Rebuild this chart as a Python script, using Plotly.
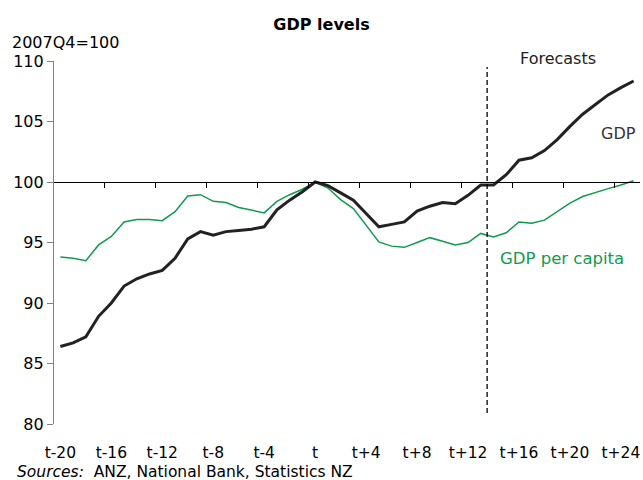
import plotly.graph_objects as go

quarters = list(range(-20, 26))
categories = [("t" if q == 0 else f"t{q:+d}") for q in quarters]
tick_labels = ["t-20", "t-16", "t-12", "t-8", "t-4", "t", "t+4", "t+8", "t+12", "t+16", "t+20", "t+24"]

gdp = [86.4, 86.7, 87.2, 88.9, 90.0, 91.4, 92.0, 92.4, 92.7, 93.7, 95.3, 95.9,
       95.6, 95.9, 96.0, 96.1, 96.3, 97.7, 98.5, 99.2, 100.0,
       99.7, 99.1, 98.5, 97.4, 96.3, 96.5, 96.7, 97.6, 98.0, 98.3, 98.2, 98.9, 99.75, 99.75,
       100.6, 101.8, 102.0, 102.6, 103.5, 104.6, 105.6, 106.4, 107.2, 107.8, 108.35]
gdp_per_capita = [93.8, 93.7, 93.5, 94.8, 95.5, 96.7, 96.9, 96.9, 96.8, 97.55, 98.85, 98.95,
                  98.4, 98.3, 97.9, 97.7, 97.45, 98.4, 98.95, 99.4, 100.0,
                  99.5, 98.55, 97.8, 96.45, 95.05, 94.7, 94.6, 95.0, 95.4, 95.1, 94.8, 95.0, 95.75, 95.45,
                  95.8, 96.7, 96.6, 96.85, 97.55, 98.25, 98.8, 99.15, 99.45, 99.75, 100.1]

forecast_start = 33.5  # boundary between t+13 and t+14 (index positions)

x = list(range(len(categories)))
label_pos = [categories.index(l) for l in tick_labels]
boundaries = [p - 0.5 for p in label_pos[1:]]

FONT = "DejaVu Sans"
W, H = 643, 480
fig = go.Figure()
fig.add_trace(go.Scatter(x=x, y=gdp_per_capita, mode="lines", name="GDP per capita",
                         line=dict(color="#129a4e", width=1.5), hoverinfo="skip"))
fig.add_trace(go.Scatter(x=x, y=gdp, mode="lines", name="GDP",
                         line=dict(color="#222222", width=3), hoverinfo="skip"))
fig.add_trace(go.Scatter(x=[x[0], x[-1]], y=[100, 100], mode="lines", xaxis="x2",
                         line=dict(color="rgba(0,0,0,0)"), hoverinfo="skip", showlegend=False))

ymin, ymax = 80, 110
fig.update_layout(
    width=W, height=H,
    margin=dict(l=54, r=3, t=61, b=56),
    paper_bgcolor="white", plot_bgcolor="white",
    showlegend=False,
    font=dict(family=FONT, size=16, color="#000000"),
    title=dict(text="<b>GDP levels</b>", x=0.5, xanchor="center", y=1 - 24 / H, yanchor="middle",
               font=dict(family=FONT, size=16, color="#000000")),
    xaxis=dict(range=[-0.5, len(categories) - 0.5], tickmode="array", tickvals=label_pos,
               ticktext=tick_labels, showline=False, showgrid=False, zeroline=False,
               ticks="outside", ticklen=14, tickcolor="rgba(0,0,0,0)",
               tickfont=dict(family=FONT, size=15.5)),
    xaxis2=dict(range=[-0.5, len(categories) - 0.5], overlaying="x", anchor="free",
                position=(100 - ymin) / (ymax - ymin), side="bottom",
                tickmode="array", tickvals=boundaries, showticklabels=False,
                ticks="outside", ticklen=5, tickcolor="#000000", tickwidth=1,
                showline=True, linecolor="#000000", linewidth=1.2, showgrid=False, zeroline=False),
    yaxis=dict(range=[ymin, ymax], tickvals=[80, 85, 90, 95, 100, 105, 110],
               showline=True, linecolor="#808080", linewidth=1.2, ticks="outside",
               ticklen=6, tickcolor="#808080", showgrid=False, zeroline=False,
               tickfont=dict(family=FONT, size=16)),
)

fig.add_shape(type="line", xref="x", yref="y", x0=forecast_start, x1=forecast_start,
              y0=80.9, y1=109.5, line=dict(color="#000000", width=1.3, dash="5px,3px"))

fig.add_annotation(text="2007Q4=100", xref="paper", yref="paper", x=-44 / 586, y=1 + 18 / 363,
                   xanchor="left", yanchor="middle", showarrow=False,
                   font=dict(family=FONT, size=16))
fig.add_annotation(text="Forecasts", xref="x", yref="paper", x=39.1, y=1 + 3 / 363,
                   xanchor="center", yanchor="middle", showarrow=False,
                   font=dict(family=FONT, size=16, color="#222222"))
fig.add_annotation(text="GDP", xref="x", yref="y", x=43.8, y=104.05,
                   xanchor="center", yanchor="middle", showarrow=False,
                   font=dict(family=FONT, size=16, color="#333333"))
fig.add_annotation(text="GDP per capita", xref="x", yref="y", x=39.4, y=93.64,
                   xanchor="center", yanchor="middle", showarrow=False,
                   font=dict(family=FONT, size=16.5, color="#129a4e"))
fig.add_annotation(text="<i>Sources:</i>  ANZ, National Bank, Statistics NZ",
                   xref="paper", yref="paper", x=-39 / 586, y=-48 / 363,
                   xanchor="left", yanchor="middle", showarrow=False,
                   font=dict(family=FONT, size=15.5))

fig.write_html("out.html", config={"displayModeBar": False},
               post_script="document.body.style.margin='0';document.body.style.overflow='hidden';")
